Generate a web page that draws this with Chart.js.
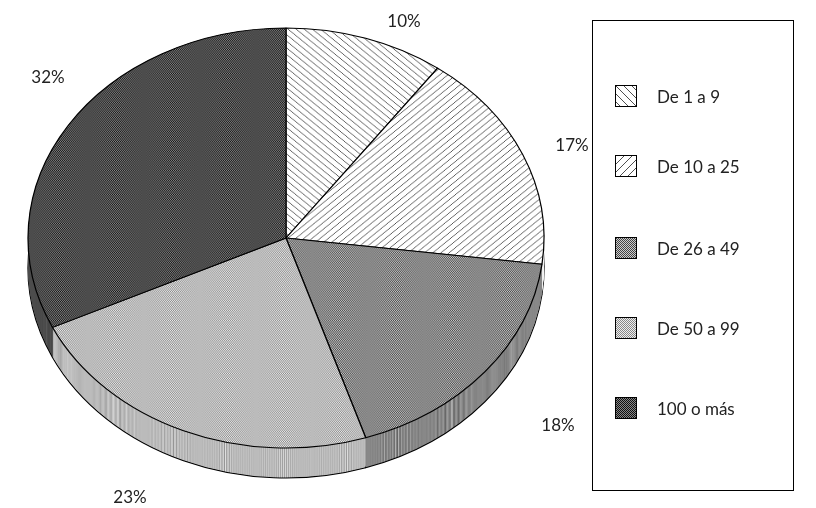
<!DOCTYPE html>
<html><head><meta charset="utf-8">
<script src="https://cdn.jsdelivr.net/npm/chart.js@4"></script>
<style>
body{margin:0;background:#fff;font-family:Lato,"Liberation Sans",sans-serif}
#wrap{position:relative;width:816px;height:508px}
#legend{position:absolute;left:592px;top:20px;width:202px;height:471px;border:1px solid #000;box-sizing:border-box}
.item{position:absolute;left:22px;font-size:17px;color:#222;display:flex;align-items:center}
.item canvas{border:1px solid #000;margin-right:20px}
</style></head><body>
<div id="wrap"><canvas id="pie" width="592" height="508"></canvas><div id="legend"></div></div>
<script>
var categories = ["De 1 a 9", "De 10 a 25", "De 26 a 49", "De 50 a 99", "100 o más"];
var values = [10, 17, 18, 23, 32];
var labelSpots = [[404, 22], [572, 146], [558, 426], [130, 498], [48, 78]];

function makePattern(kind) {
  var c = document.createElement("canvas");
  c.width = 8; c.height = 8;
  var g = c.getContext("2d");
  g.fillStyle = "#fff"; g.fillRect(0, 0, 8, 8);
  if (kind < 2) {
    g.strokeStyle = "#222"; g.lineWidth = 0.8;
    g.beginPath();
    if (kind == 0) { g.moveTo(0, 0); g.lineTo(8, 8); g.moveTo(-4, 4); g.lineTo(4, 12); g.moveTo(4, -4); g.lineTo(12, 4); }
    else { g.moveTo(0, 8); g.lineTo(8, 0); g.moveTo(-4, 4); g.lineTo(4, -4); g.moveTo(4, 12); g.lineTo(12, 4); }
    g.stroke();
  } else {
    var dark = ["#444", "#888", "#111"][kind - 2];
    var light = ["#ccc", "#eee", "#888"][kind - 2];
    for (var y = 0; y < 8; y++) for (var x = 0; x < 8; x++) {
      g.fillStyle = (x + y) % 2 ? light : dark;
      g.fillRect(x, y, 1, 1);
    }
  }
  return c;
}
var tiles = [0, 1, 2, 3, 4].map(makePattern);
var ctx0 = document.getElementById("pie").getContext("2d");
var patterns = tiles.map(function (t) { return ctx0.createPattern(t, "repeat"); });

var legend = document.getElementById("legend");
var itemY = [64, 134, 216, 296, 376];
categories.forEach(function (name, i) {
  var d = document.createElement("div");
  d.className = "item"; d.style.top = itemY[i] + "px";
  var sw = document.createElement("canvas");
  sw.width = 20; sw.height = 20;
  var g = sw.getContext("2d");
  g.fillStyle = g.createPattern(tiles[i], "repeat"); g.fillRect(0, 0, 20, 20);
  d.appendChild(sw);
  d.appendChild(document.createTextNode(name));
  legend.appendChild(d);
});

var rx = 258, ry = 210, cxT = 286, cyT = 238, depth = 30;
var tilt = {
  id: "tilt",
  beforeDatasetsDraw: function (chart) {
    var ctx = chart.ctx, arcs = chart.getDatasetMeta(0).data;
    var a = arcs[0], r = a.outerRadius;
    ctx.save();
    ctx.translate(cxT, cyT);
    ctx.scale(rx / r, ry / r);
    ctx.translate(-a.x, -a.y);
    var k = r / ry;
    for (var d = depth; d >= 0; d--) {
      ctx.save();
      ctx.translate(0, d * k);
      arcs.forEach(function (el) {
        var bw = el.options.borderWidth;
        el.options.borderWidth = (d == depth) ? 1.2 : 0;
        el.draw(ctx);
        el.options.borderWidth = bw;
      });
      ctx.restore();
    }
  },
  afterDatasetsDraw: function (chart) {
    var ctx = chart.ctx;
    ctx.restore();
    ctx.save();
    ctx.fillStyle = "#222";
    ctx.font = "17px Lato, 'Liberation Sans', sans-serif";
    ctx.textAlign = "center"; ctx.textBaseline = "middle";
    values.forEach(function (v, i) {
      ctx.fillText(v + "%", labelSpots[i][0], labelSpots[i][1]);
    });
    ctx.restore();
  }
};

new Chart(document.getElementById("pie"), {
  type: "pie",
  data: {
    labels: categories,
    datasets: [{ data: values, backgroundColor: patterns, borderColor: "#000", borderWidth: 1.2 }]
  },
  options: {
    responsive: false,
    animation: false,
    plugins: { legend: { display: false }, tooltip: { enabled: false } }
  },
  plugins: [tilt]
});
</script></body></html>
